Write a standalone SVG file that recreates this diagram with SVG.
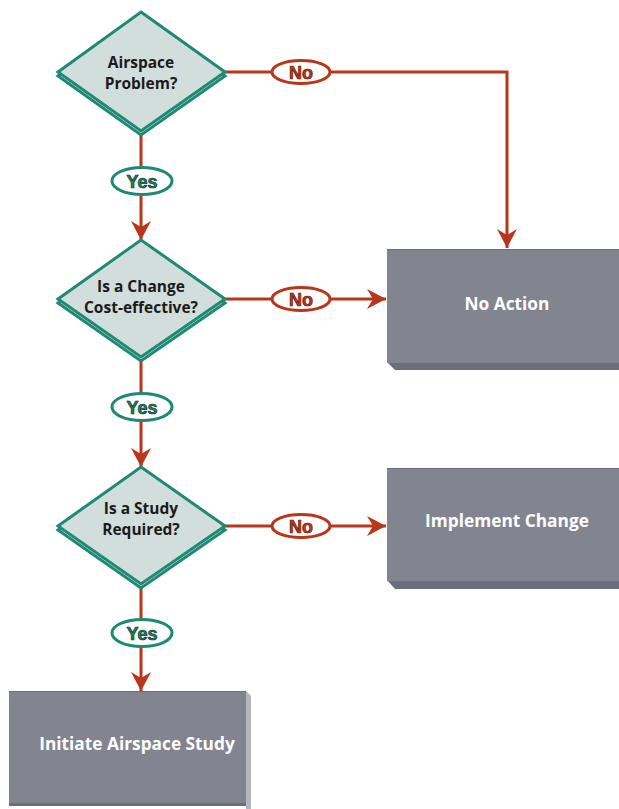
<svg xmlns="http://www.w3.org/2000/svg" width="619" height="809" viewBox="0 0 619 809">
  <style>
    .dia { fill: #d2dedb; stroke: #1f8a73; stroke-width: 3; stroke-linejoin: miter; }
    .dia-sh { fill: none; stroke: #1f8a73; stroke-width: 3; }
    .qtxt { font-family: "Open Sans", "Liberation Sans", sans-serif; font-weight: 700; font-size: 15.5px; fill: #1a1a1a; text-anchor: middle; }
    .wire { fill: none; stroke: #b8361a; stroke-width: 3; }
    .no-oval { fill: #ffffff; stroke: #b8361a; stroke-width: 3; }
    .no-txt { font-family: "Liberation Sans", sans-serif; font-weight: 700; font-size: 18px; fill: #c0361a; stroke: #5a1a0c; stroke-width: 0.7; text-anchor: middle; }
    .yes-oval { fill: #ffffff; stroke: #1f8a73; stroke-width: 3; }
    .yes-txt { font-family: "Liberation Sans", sans-serif; font-weight: 700; font-size: 18px; fill: #1f7d69; stroke: #0e3a31; stroke-width: 0.7; text-anchor: middle; }
    .box { fill: #828490; }
    .box-edge { fill: #6c6e7d; }
    .box-side { fill: #b3b5bb; }
    .box-top { stroke: #6a6c78; stroke-width: 1; }
    .btxt { font-family: "Open Sans", "Liberation Sans", sans-serif; font-weight: 700; font-size: 17.3px; fill: #ffffff; text-anchor: middle; }
  </style>
  <defs>
    <marker id="arrow" markerUnits="userSpaceOnUse" markerWidth="22" markerHeight="22" viewBox="-20 -11 22 22" refX="0" refY="0" orient="auto">
      <path d="M0,0 L-19,-10 L-13,0 L-19,10 Z" fill="#b8361a"/>
    </marker>
  </defs>

  <!-- connectors -->
  <g id="connectors">
    <path class="wire" d="M225,72 H507 V248" marker-end="url(#arrow)"/>
    <path class="wire" d="M225,299 H386" marker-end="url(#arrow)"/>
    <path class="wire" d="M225,526 H386" marker-end="url(#arrow)"/>
    <path class="wire" d="M141,134 V240" marker-end="url(#arrow)"/>
    <path class="wire" d="M141,361 V467" marker-end="url(#arrow)"/>
    <path class="wire" d="M141,588 V691" marker-end="url(#arrow)"/>

    <g id="label-no-1">
      <ellipse class="no-oval" cx="301" cy="72" rx="29" ry="11.5"/>
      <text class="no-txt" x="301" y="78.5">No</text>
    </g>
    <g id="label-no-2">
      <ellipse class="no-oval" cx="301" cy="299" rx="29" ry="11.5"/>
      <text class="no-txt" x="301" y="305.5">No</text>
    </g>
    <g id="label-no-3">
      <ellipse class="no-oval" cx="301" cy="526" rx="29" ry="11.5"/>
      <text class="no-txt" x="301" y="532.5">No</text>
    </g>
    <g id="label-yes-1">
      <ellipse class="yes-oval" cx="142" cy="181" rx="30" ry="13.5"/>
      <text class="yes-txt" x="142" y="187.5">Yes</text>
    </g>
    <g id="label-yes-2">
      <ellipse class="yes-oval" cx="142" cy="407" rx="30" ry="13.5"/>
      <text class="yes-txt" x="142" y="413.5">Yes</text>
    </g>
    <g id="label-yes-3">
      <ellipse class="yes-oval" cx="142" cy="633" rx="30" ry="13.5"/>
      <text class="yes-txt" x="142" y="639.5">Yes</text>
    </g>
  </g>

  <!-- decisions -->
  <g id="decision-airspace-problem">
    <path class="dia-sh" d="M141,16 L225,76 L141,135 L58,76 Z"/>
    <path class="dia" d="M141,12 L225,72 L141,131 L58,72 Z"/>
    <text class="qtxt" x="141" y="68">Airspace</text>
    <text class="qtxt" x="141" y="89">Problem?</text>
  </g>
  <g id="decision-cost-effective">
    <path class="dia-sh" d="M141,244 L225,303 L141,361 L58,303 Z"/>
    <path class="dia" d="M141,240 L225,299 L141,357 L58,299 Z"/>
    <text class="qtxt" x="141" y="292">Is a Change</text>
    <text class="qtxt" x="141" y="313">Cost-effective?</text>
  </g>
  <g id="decision-study-required">
    <path class="dia-sh" d="M141,471 L225,530 L141,588 L58,530 Z"/>
    <path class="dia" d="M141,467 L225,526 L141,584 L58,526 Z"/>
    <text class="qtxt" x="141" y="514">Is a Study</text>
    <text class="qtxt" x="141" y="535">Required?</text>
  </g>

  <!-- outcomes -->
  <g id="box-no-action">
    <path class="box-edge" d="M387,362 L619,362 L619,370 L395,370 Z"/>
    <rect class="box" x="387" y="249" width="232" height="114"/>
    <line class="box-top" x1="387" y1="249.5" x2="619" y2="249.5"/>
    <text class="btxt" x="507" y="310">No Action</text>
  </g>
  <g id="box-implement-change">
    <path class="box-edge" d="M387,580 L619,580 L619,589 L395,589 Z"/>
    <rect class="box" x="387" y="468" width="232" height="113"/>
    <line class="box-top" x1="387" y1="468.5" x2="619" y2="468.5"/>
    <text class="btxt" x="507" y="527">Implement Change</text>
  </g>
  <g id="box-initiate-study">
    <path class="box-side" d="M246,691 L251,696 L251,809 L246,809 Z"/>
    <path class="box-edge" d="M9,802 L246,802 L246,806 L9,806 Z"/>
    <rect class="box" x="9" y="691" width="237" height="112"/>
    <line class="box-top" x1="9" y1="691.5" x2="246" y2="691.5"/>
    <text class="btxt" x="137" y="750">Initiate Airspace Study</text>
  </g>
</svg>
